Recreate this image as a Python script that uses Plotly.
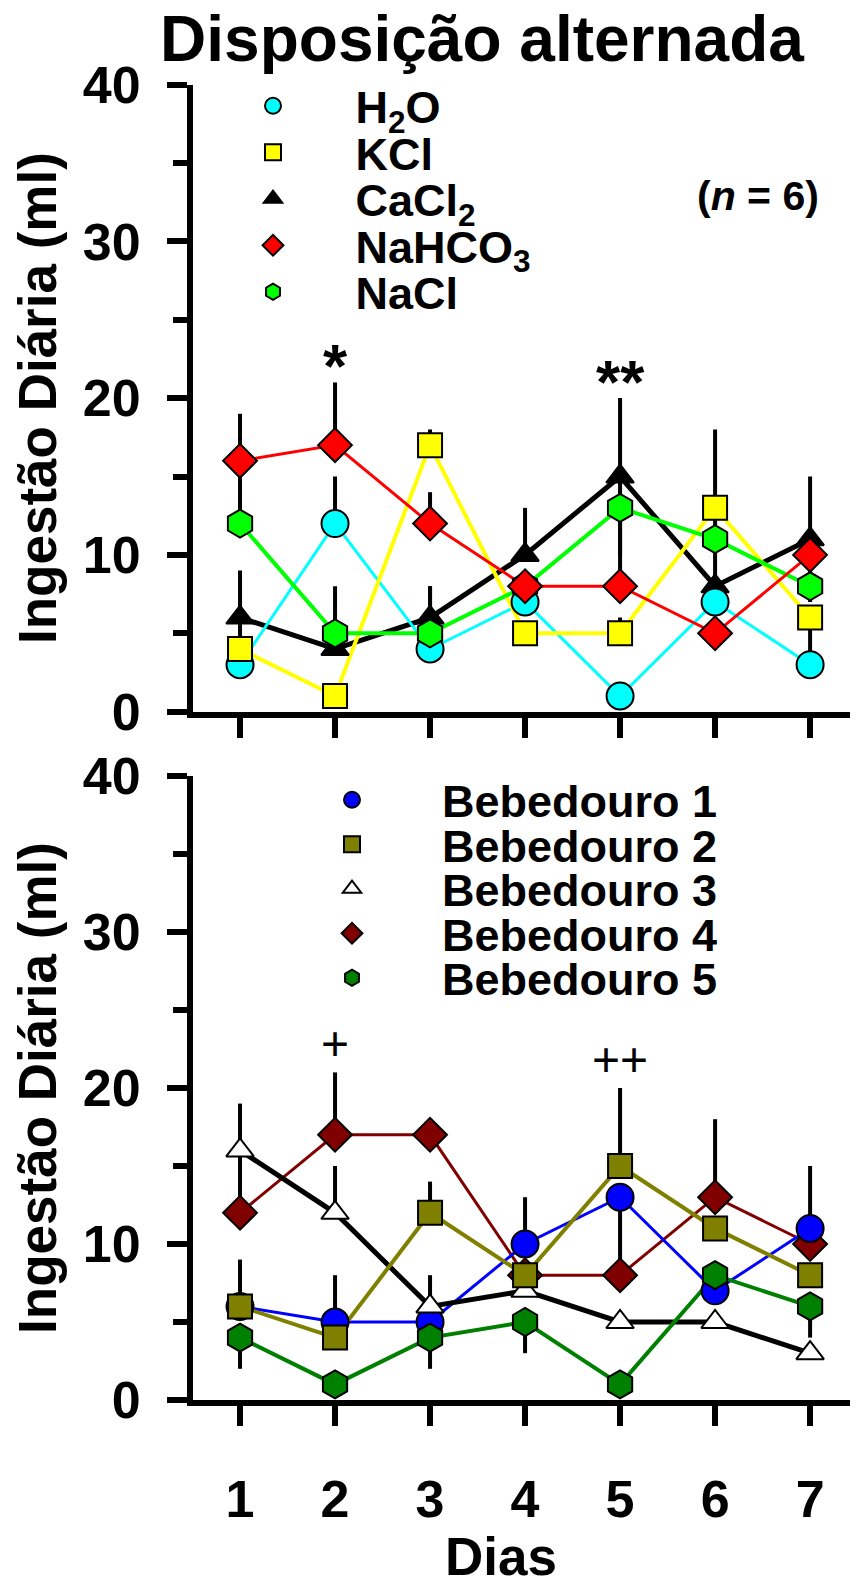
import plotly.graph_objects as go

# ---------------- data ----------------
days = [1, 2, 3, 4, 5, 6, 7]
y_major = [0, 10, 20, 30, 40]

# top panel: solutions
h2o = [3, 12, 4, 7, 1, 7, 3]
h2o_up = [0, 3, 0, 0, 0, 0, 3]
h2o_dn = [0, 0, 0, 0, 0, 0, 0]
kcl = [4, 1, 17, 5, 5, 13, 6]
kcl_up = [0, 0, 1, 0, 1, 5, 0]
kcl_dn = [0, 0, 0, 0, 0, 5, 0]
cacl2 = [6, 4, 6, 10, 15, 8, 11]
cacl2_up = [3, 0, 2, 3, 5, 0, 4]
cacl2_dn = [3, 0, 0, 0, 5, 0, 4]
nahco3 = [16, 17, 12, 8, 8, 5, 10]
nahco3_up = [3, 4, 2, 0, 0, 0, 0]
nahco3_dn = [0, 0, 0, 0, 0, 0, 0]
nacl = [12, 5, 5, 8, 13, 11, 8]
nacl_up = [3, 3, 3, 0, 0, 0, 0]
nacl_dn = [0, 0, 0, 0, 5, 0, 0]

# bottom panel: drinking bottles
b1 = [6, 5, 5, 10, 13, 7, 11]
b1_up = [3, 3, 0, 3, 0, 0, 4]
b1_dn = [0, 0, 0, 0, 4, 0, 0]
b2 = [6, 4, 12, 8, 15, 11, 8]
b2_up = [0, 0, 2, 0, 5, 0, 0]
b2_dn = [0, 0, 0, 0, 0, 0, 0]
b3 = [16, 12, 6, 7, 5, 5, 3]
b3_up = [3, 3, 2, 0, 0, 0, 0]
b3_dn = [3, 0, 0, 0, 0, 0, 0]
b4 = [12, 17, 17, 8, 8, 13, 10]
b4_up = [0, 4, 0, 0, 0, 5, 0]
b4_dn = [0, 0, 0, 0, 0, 0, 0]
b5 = [4, 1, 4, 5, 1, 8, 6]
b5_up = [0, 0, 0, 0, 0, 0, 0]
b5_dn = [2, 0, 2, 2, 0, 0, 2]

sig_top_days = [2, 5]
sig_top_labels = ["*", "**"]
sig_bot_days = [2, 5]
sig_bot_labels = ["+", "++"]

# ---------------- style / layout ----------------
FONT = "Liberation Sans, Arial, Helvetica, sans-serif"
PAGE_OFF = 8            # browser body margin
W, H = 850, 1572
ML, MR = 193 - PAGE_OFF, 8
PW = W - ML - MR


def sx(p):  # screen x px -> paper x
    return (p - PAGE_OFF - ML) / PW


def sy(p):  # screen y px -> paper y
    return 1 - (p - PAGE_OFF) / H


top_series = [  # drawing order
    dict(name="CaCl<sub>2</sub>", y=cacl2, up=cacl2_up, dn=cacl2_dn, sym="triangle-up", size=24, fill="black", lw=5, lc="black", row=2),
    dict(name="H<sub>2</sub>O", y=h2o, up=h2o_up, dn=h2o_dn, sym="circle", size=27, fill="#00FFFF", lw=3, lc="#00FFFF", row=0),
    dict(name="KCl", y=kcl, up=kcl_up, dn=kcl_dn, sym="square", size=24, fill="#FFFF00", lw=4, lc="#FFFF00", row=1),
    dict(name="NaCl", y=nacl, up=nacl_up, dn=nacl_dn, sym="hexagon", size=28, fill="#00FF00", lw=4, lc="#00FF00", row=4),
    dict(name="NaHCO<sub>3</sub>", y=nahco3, up=nahco3_up, dn=nahco3_dn, sym="diamond", size=26, fill="#FF0000", lw=3, lc="#FF0000", row=3),
]
bot_series = [
    dict(name="Bebedouro 4", y=b4, up=b4_up, dn=b4_dn, sym="diamond", size=26, fill="#800000", lw=3, lc="#800000", row=3),
    dict(name="Bebedouro 1", y=b1, up=b1_up, dn=b1_dn, sym="circle", size=27, fill="#0000FF", lw=3, lc="#0000FF", row=0),
    dict(name="Bebedouro 3", y=b3, up=b3_up, dn=b3_dn, sym="triangle-up", size=24, fill="white", lw=5, lc="black", row=2),
    dict(name="Bebedouro 5", y=b5, up=b5_up, dn=b5_dn, sym="hexagon", size=28, fill="#008000", lw=4, lc="#008000", row=4),
    dict(name="Bebedouro 2", y=b2, up=b2_up, dn=b2_dn, sym="square", size=24, fill="#808000", lw=4, lc="#808000", row=1),
]

fig = go.Figure()
legend_layouts = {}
leg_counter = [0]


def add_panel(series, xa, ya, leg_marker_px, leg_row0, leg_step, pad):
    for s in series:
        fig.add_trace(go.Scatter(
            x=days, y=s["y"], mode="lines", xaxis=xa, yaxis=ya,
            line=dict(color=s["lc"], width=s["lw"]), showlegend=False,
            hoverinfo="skip", cliponaxis=False))
    for s in series:
        leg_counter[0] += 1
        lid = "legend" if leg_counter[0] == 1 else f"legend{leg_counter[0]}"
        fig.add_trace(go.Scatter(
            x=days, y=s["y"], mode="markers", xaxis=xa, yaxis=ya,
            name=pad + s["name"], legend=lid, cliponaxis=False,
            marker=dict(symbol=s["sym"], size=s["size"], color=s["fill"],
                        line=dict(color="black", width=2)),
            error_y=dict(type="data", symmetric=False, array=s["up"],
                         arrayminus=s["dn"], color="black", thickness=4, width=0)))
        cy = leg_row0 + leg_step * s["row"]
        legend_layouts[lid] = dict(
            x=sx(leg_marker_px - 20), xanchor="left",
            y=sy(cy), yanchor="middle",
            bgcolor="rgba(0,0,0,0)", borderwidth=0,
            font=dict(family=FONT, size=45, color="black", weight="bold"),
            itemclick=False, itemdoubleclick=False)


NB = "\u00a0"
add_panel(top_series, "x", "y", 273, 106, 46.5, NB * 5)
add_panel(bot_series, "x2", "y2", 352, 800, 44.5, NB * 5 + "\u2006")

axis_common = dict(
    showline=True, linewidth=6, linecolor="black", ticks="outside",
    tickwidth=6, tickcolor="black", showgrid=False, zeroline=False,
    tickfont=dict(family=FONT, size=52, color="black", weight="bold"),
)
xcommon = dict(axis_common, range=[0.505, 7.42], tickvals=days, ticklen=20,
               domain=[0, 1])
ycommon = dict(axis_common, range=[0, 40], tickvals=y_major, ticklen=20,
               ticklabelstandoff=16,
               minor=dict(dtick=5, ticks="outside", ticklen=14, tickwidth=6,
                          tickcolor="black", showgrid=False),
               title=dict(text="Ingestão Diária (ml)", standoff=20,
                          font=dict(family=FONT, size=53, color="black", weight="bold")))

fig.update_layout(
    width=W, height=H,
    margin=dict(l=ML, r=MR, t=0, b=0, autoexpand=False),
    paper_bgcolor="white", plot_bgcolor="white",
    xaxis=dict(xcommon, anchor="y", showticklabels=False),
    yaxis=dict(ycommon, anchor="x", domain=[sy(711.7), sy(84.5)]),
    xaxis2=dict(xcommon, anchor="y2", showticklabels=True, ticklabelstandoff=29),
    yaxis2=dict(ycommon, anchor="x2", domain=[sy(1400), sy(776)]),
    title=dict(text="Disposição alternada", x=(482 - PAGE_OFF) / W, xanchor="center",
               y=sy(39), yanchor="middle", yref="container",
               font=dict(family=FONT, size=64, color="black", weight="bold")),
    **legend_layouts,
)

annotations = []
tops_top = [max(s["y"][i] + s["up"][i] for s in top_series) for i in range(len(days))]
tops_bot = [max(s["y"][i] + s["up"][i] for s in bot_series) for i in range(len(days))]
for d, lab in zip(sig_top_days, sig_top_labels):
    annotations.append(dict(x=d, y=tops_top[days.index(d)], xref="x", yref="y",
                            text=lab, showarrow=False, yanchor="bottom", yshift=-20,
                            font=dict(family=FONT, size=62, color="black", weight="bold")))
for d, lab in zip(sig_bot_days, sig_bot_labels):
    annotations.append(dict(x=d, y=tops_bot[days.index(d)], xref="x2", yref="y2",
                            text=lab, showarrow=False, yanchor="bottom", yshift=0,
                            font=dict(family=FONT, size=48, color="black")))
annotations.append(dict(x=sx(758), y=sy(196), xref="paper", yref="paper",
                        text="(<i>n</i> = 6)", showarrow=False,
                        xanchor="center", yanchor="middle",
                        font=dict(family=FONT, size=41, color="black", weight="bold")))
annotations.append(dict(x=sx(501), y=sy(1556), xref="paper", yref="paper",
                        text="Dias", showarrow=False, xanchor="center", yanchor="middle",
                        font=dict(family=FONT, size=53, color="black", weight="bold")))
fig.update_layout(annotations=annotations)

fig.write_html("out.html")
